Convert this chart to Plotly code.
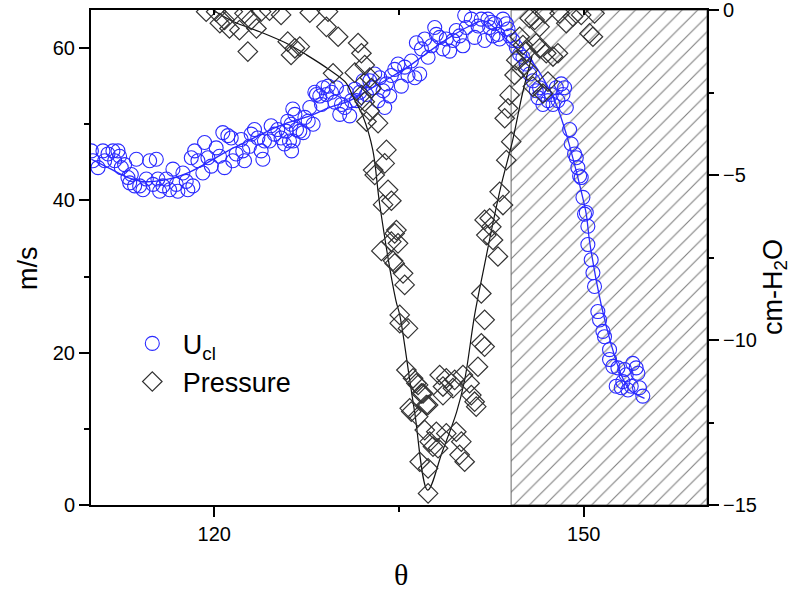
import plotly.graph_objects as go

# ---- U_cl data (theta [deg], velocity [m/s]) ----
ucl_theta = [110.03,110.16,110.57,110.97,111.11,111.38,111.78,111.92,112.19,112.32,112.46,112.73,113.0,113.27,113.14,113.68,113.54,113.95,114.22,114.49,
             114.76,115.03,115.3,115.43,115.57,115.84,116.11,116.38,116.65,116.92,117.05,117.46,117.73,117.86,118.27,118.14,118.41,118.68,119.08,119.22,
             119.49,119.76,120.16,120.43,120.7,120.84,121.11,121.38,121.51,121.78,122.19,122.32,122.46,122.86,123.0,123.27,123.54,123.81,123.95,124.08,
             124.49,124.62,124.89,125.16,125.43,125.7,125.84,125.97,126.11,126.24,126.38,
             126.28,126.41,126.55,126.68,126.95,127.22,127.36,127.63,127.76,128.03,128.17,128.3,128.57,128.71,128.84,129.11,129.25,129.52,129.79,129.92,
             130.19,130.33,130.6,130.73,131.0,131.14,131.41,131.55,131.82,132.09,132.36,132.63,132.9,133.03,133.3,133.44,133.71,133.84,133.98,134.25,
             134.38,134.65,134.92,135.19,135.46,135.73,136.0,136.28,136.41,136.68,136.82,137.09,137.36,137.63,137.9,138.03,138.3,138.57,138.84,139.11,
             139.38,139.65,139.92,140.19,140.33,140.46,140.87,141.14,141.41,141.68,141.95,142.22,142.36,142.63,
             142.5,142.77,143.04,143.17,143.44,143.71,143.85,143.98,144.25,144.52,144.79,145.06,145.33,145.6,145.87,146.14,146.28,146.41,146.68,146.82,
             147.09,147.36,147.5,147.77,147.9,148.17,148.31,148.44,148.58,148.85,148.98,149.25,149.39,149.52,149.66,149.79,149.93,150.2,
             150.06,150.33,150.33,150.6,150.74,150.87,151.14,151.28,151.55,151.68,152.09,152.09,152.36,152.63,152.77,153.04,153.17,153.44,153.58,153.85,
             153.98,154.25,154.52,154.79,154.39,153.31]
ucl_value = [46.5,45.2,44.3,46.5,45.2,46.1,46.5,45.2,46.5,45.8,44.3,44.7,43.0,43.4,42.3,45.4,41.9,41.9,41.4,42.8,
             45.2,42.1,45.4,42.8,41.2,41.9,42.8,41.4,44.1,42.1,41.2,43.6,42.5,41.4,41.9,45.6,46.5,45.2,43.6,47.6,
             45.6,44.5,46.9,45.8,48.9,44.3,48.5,48.2,45.2,46.1,48.0,46.5,45.2,47.1,48.7,49.3,48.2,46.5,45.4,47.8,
             47.8,49.8,48.7,49.3,48.2,47.4,49.1,50.4,47.8,50.0,52.0,
             46.5,47.8,51.3,49.3,49.1,48.9,50.9,50.4,52.2,50.0,54.2,53.9,53.7,52.6,54.8,53.9,55.0,54.2,52.9,54.8,
             51.3,52.6,52.2,54.2,51.1,53.1,54.6,53.1,54.2,55.7,53.9,55.7,54.8,56.6,53.1,56.1,54.4,52.2,55.3,53.7,
             56.4,57.2,57.9,55.0,57.5,56.4,58.3,56.1,60.7,56.6,59.9,61.2,58.8,60.3,62.7,61.8,61.4,59.9,61.2,59.6,
             61.0,62.3,61.6,60.3,64.3,62.7,63.8,61.4,62.9,63.8,61.0,63.8,62.7,61.6,
             63.4,63.2,61.8,61.2,63.8,63.2,62.5,61.6,61.0,60.1,59.2,58.8,57.9,56.6,55.7,54.4,53.5,54.8,52.6,53.9,
             53.1,53.9,52.6,54.8,53.1,55.3,53.9,54.8,52.2,49.3,47.4,46.1,45.6,44.3,43.2,43.0,40.4,38.4,
             38.2,36.6,34.2,32.2,30.5,28.7,25.4,24.3,22.8,22.1,20.4,19.1,18.2,15.6,18.0,15.4,16.2,17.1,15.1,15.6,
             18.6,18.0,15.4,14.3,17.3,17.8]

# ---- U_cl fit curve ----
ufit_theta = [110.03,111.38,113.0,114.08,115.16,116.78,117.86,119.49,121.11,122.73,124.35,125.97,127.76,129.38,131.0,132.63,134.25,135.87,
              137.49,139.11,140.73,141.81,142.36,144.39,145.6,146.82,147.77,148.58,149.25,149.79,150.2,150.47,151.41,152.22,153.04,153.71,154.52,154.93]
ufit_value = [45.4,44.3,43.0,42.5,42.5,43.0,43.6,45.0,46.5,47.8,49.1,50.2,51.1,52.2,53.1,54.6,56.1,57.7,
              59.6,61.4,62.9,63.6,63.2,60.1,58.6,55.7,52.6,48.7,44.7,41.2,38.2,34.6,26.3,21.1,17.1,15.1,14.3,14.0]

# ---- Pressure data (theta [deg], cm-H2O) ----
p_theta = [119.35,120.16,120.46,120.84,121.24,121.51,122.05,122.46,122.73,123.0,123.43,123.81,124.49,125.43,125.97,126.24,126.55,126.95,127.76,129.11,
           129.24,130.06,129.65,131.41,131.68,131.95,132.22,132.63,132.76,131.95,132.22,132.63,133.3,132.36,133.98,133.84,132.9,133.03,134.11,134.38,
           133.71,134.79,134.65,134.38,133.57,134.92,134.52,134.65,135.33,135.46,135.06,135.06,135.73,135.6,136.14,136.41,136.55,136.82,136.95,137.22,
           137.36,135.87,136.0,136.55,137.09,138.03,137.49,137.76,138.17,138.84,139.65,140.06,139.92,140.33,136.68,137.36,137.36,138.3,138.84,138.57,
           139.38,138.57,139.52,140.19,140.73,140.87,141.14,141.27,141.41,141.68,141.95,141.68,141.95,142.09,142.36,142.49,141.95,142.63,143.03,143.17,
           143.44,143.71,144.11,143.58,143.85,143.98,144.38,144.93,144.52,145.47,144.79,145.06,145.33,145.6,146.01,146.41,146.82,146.14,146.41,146.95,
           147.5,147.9,147.09,146.68,148.04,148.58,149.12,150.47,150.74,145.87,149.79,150.87]
p_value = [-0.05,-0.05,-0.40,-0.30,-0.56,-0.05,-0.61,-0.10,-1.26,-0.30,-0.56,-0.05,-0.02,-0.15,-0.96,-1.36,-1.16,-1.11,-0.08,-0.51,
           -0.05,-0.81,-1.92,-1.90,-1.0,-1.31,-1.67,-2.05,-2.37,-2.58,-2.78,-3.06,-3.43,-3.38,-4.24,-4.65,-4.85,-5.0,-5.45,-5.78,
           -5.9,-6.67,-6.77,-7.02,-7.3,-7.07,-7.6,-7.68,-7.98,-8.33,-9.24,-9.49,-9.65,-10.91,-11.16,-11.31,-11.36,-11.62,-11.62,-11.97,
           -11.97,-12.07,-12.17,-12.32,-12.73,-12.78,-13.08,-13.23,-13.28,-12.83,-12.78,-13.08,-13.48,-13.69,-13.69,-13.89,-14.65,-11.06,-11.16,-11.41,
           -11.46,-11.67,-11.21,-11.06,-11.31,-11.67,-11.87,-12.02,-10.81,-10.1,-10.2,-8.59,-9.39,-6.82,-6.31,-6.57,-6.36,-6.97,-7.47,-5.51,
           -5.91,-4.55,-3.99,-3.28,-2.98,-2.58,-1.97,-1.77,-1.52,-1.82,-0.81,-1.06,-1.26,-0.25,-0.30,-0.51,-0.10,-1.01,-1.16,-1.31,
           -1.41,-1.31,-2.17,-2.53,-0.10,-0.40,-0.20,-0.71,-0.81,-2.32,-0.15,-0.10]

# ---- Pressure fit curve ----
pfit_theta = [119.9,121.54,123.7,125.86,127.49,129.38,130.73,131.27,132.08,132.87,133.44,134.74,135.06,135.87,136.28,137.33,
              138.5,139.68,140.33,141.14,141.9,142.6,143.3,144.23,145.04,145.8]
pfit_value = [0.0,-0.35,-0.66,-1.01,-1.36,-1.82,-2.22,-2.63,-3.23,-4.24,-5.91,-8.79,-9.24,-11.21,-12.21,-14.55,
              -13.4,-12.18,-11.21,-9.24,-7.8,-6.5,-5.3,-3.94,-2.5,-1.4]

# ---- shaded (hatched) theta band ----
band_theta = [144.1, 160.0]

x_range = [110, 160]
y_left_range = [0, 65]
y_right_range = [-15, 0]

BLUE = "#2a2aff"
FONT = "Liberation Sans, Arial, sans-serif"
SERIF = "Liberation Serif, Times New Roman, serif"

fig = go.Figure()

# hatched band
fig.add_trace(go.Scatter(
    x=[band_theta[0], band_theta[1], band_theta[1], band_theta[0], band_theta[0]],
    y=[y_left_range[0], y_left_range[0], y_left_range[1], y_left_range[1], y_left_range[0]],
    mode="lines", fill="toself", fillcolor="rgba(255,255,255,0)",
    fillpattern=dict(shape="/", size=11, solidity=0.1, fgcolor="#000000", bgcolor="white"),
    line=dict(color="#666666", width=1), showlegend=False, hoverinfo="skip"))

# fit lines
fig.add_trace(go.Scatter(x=ufit_theta, y=ufit_value, mode="lines", line=dict(color=BLUE, width=1.3),
                         line_shape="spline", showlegend=False, hoverinfo="skip"))
fig.add_trace(go.Scatter(x=pfit_theta, y=pfit_value, yaxis="y2", mode="lines", line=dict(color="#111111", width=1.2),
                         line_shape="spline", showlegend=False, hoverinfo="skip"))

# data markers
fig.add_trace(go.Scatter(x=ucl_theta, y=ucl_value, mode="markers", name="U<sub>cl</sub>",
                         marker=dict(symbol="circle-open", size=14, color=BLUE, line=dict(width=1.1))))
fig.add_trace(go.Scatter(x=p_theta, y=p_value, yaxis="y2", mode="markers", name="Pressure",
                         marker=dict(symbol="diamond-open", size=15, color="#333333", line=dict(width=1.2))))

# dummy trace to activate the top tick axis
fig.add_trace(go.Scatter(x=[None], y=[None], xaxis="x2", showlegend=False, hoverinfo="skip"))

tickfont = dict(family=FONT, size=20, color="black")

fig.update_layout(
    width=800, height=590,
    margin=dict(l=91, r=93, t=10, b=85, autoexpand=False),
    paper_bgcolor="white", plot_bgcolor="white",
    font=dict(family=FONT, size=20, color="black"),
    showlegend=True,
    legend=dict(x=0.05, y=0.375, xanchor="left", yanchor="top", bgcolor="rgba(0,0,0,0)",
                font=dict(size=27, family=FONT), tracegroupgap=0, itemwidth=51),
    xaxis=dict(range=x_range, showgrid=False, zeroline=False, showline=True, linecolor="black", linewidth=2,
               mirror=True, ticks="outside", ticklen=10, tickwidth=2, tickcolor="black", tickfont=tickfont,
               automargin=False, ticklabeloverflow="allow",
               tick0=0, dtick=30, minor=dict(dtick=15, ticks="outside", ticklen=5, tickwidth=2, tickcolor="black")),
    xaxis2=dict(range=x_range, overlaying="x", side="top", showgrid=False, zeroline=False, showline=False,
                ticks="inside", ticklen=5, tickwidth=2, tickcolor="black", showticklabels=False,
                automargin=False, tickvals=[120, 135, 150]),
    yaxis=dict(range=y_left_range, showgrid=False, zeroline=False, showline=True, linecolor="black", linewidth=2,
               ticks="outside", ticklen=10, tickwidth=2, tickcolor="black", tick0=0, dtick=20, tickfont=tickfont,
               automargin=False, ticklabeloverflow="allow",
               minor=dict(dtick=10, ticks="outside", ticklen=5, tickwidth=2, tickcolor="black")),
    yaxis2=dict(range=y_right_range, overlaying="y", side="right", showgrid=False, zeroline=False,
                showline=True, linecolor="black", linewidth=2, automargin=False, ticklabeloverflow="allow",
                ticks="outside", ticklen=10, tickwidth=2, tickcolor="black", tick0=0, dtick=5, tickfont=tickfont,
                minor=dict(dtick=2.5, ticks="outside", ticklen=5, tickwidth=2, tickcolor="black")),
    annotations=[
        dict(text="m/s", xref="paper", yref="paper", x=-0.102, y=0.479, textangle=-90, showarrow=False,
             xanchor="center", yanchor="middle", font=dict(family=FONT, size=27)),
        dict(text="cm-H<sub>2</sub>O", xref="paper", yref="paper", x=1.110, y=0.44, textangle=-90, showarrow=False,
             xanchor="center", yanchor="middle", font=dict(family=FONT, size=27)),
        dict(text="θ", xref="paper", yref="paper", x=0.503, y=-0.14, showarrow=False,
             xanchor="center", yanchor="middle", font=dict(family=SERIF, size=30)),
    ],
)

fig.write_html("out.html", config={"displayModeBar": False},
               post_script="document.body.style.margin='0';")
